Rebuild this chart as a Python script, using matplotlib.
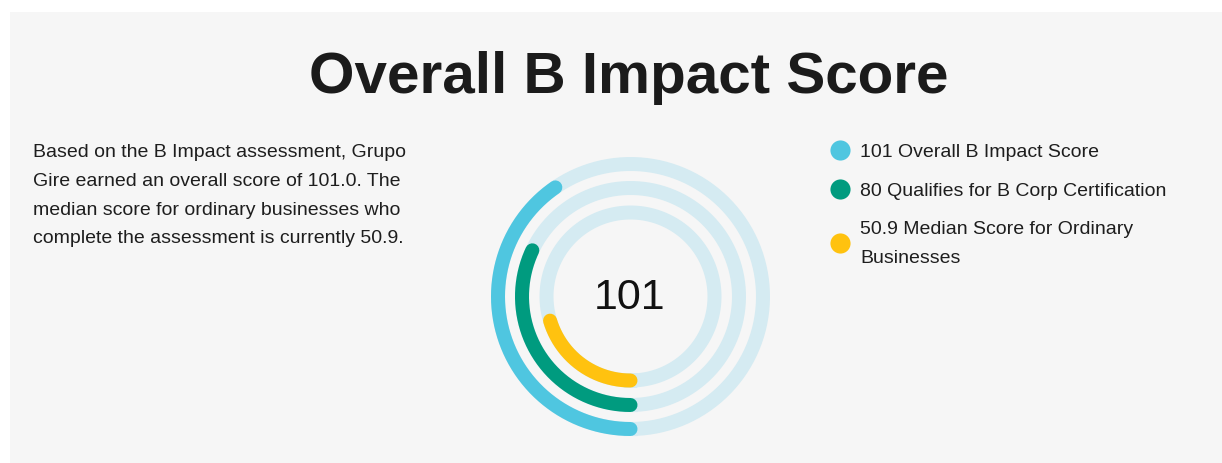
import numpy as np
import matplotlib
matplotlib.use('Agg')
from matplotlib import pyplot as plt
from matplotlib.patches import Rectangle

plt.rcParams['font.family'] = ['Liberation Sans', 'DejaVu Sans']

# data
max_score = 250
scores = [101, 80, 50.9]
labels = ['Overall B Impact Score', 'Qualifies for B Corp Certification',
          'Median Score for Ordinary\nBusinesses']
colours = ['#4fc6e0', '#009b7f', '#ffc20f']
track = '#d5ebf2'
title = 'Overall B Impact Score'
para = ['Based on the B Impact assessment, Grupo',
        'Gire earned an overall score of 101.0. The',
        'median score for ordinary businesses who',
        'complete the assessment is currently 50.9.']

W, H = 1222, 464
fig = plt.figure(figsize=(W/100, H/100), dpi=100)
fig.patch.set_facecolor('white')

ax = fig.add_axes([0, 0, 1, 1])
ax.set_xlim(0, W)
ax.set_ylim(H, 0)
ax.axis('off')
ax.add_patch(Rectangle((10, 13), W-10, H-13, color='#f6f6f6', lw=0))

ax.text(629, 93, title, fontsize=42, fontweight='bold', color='#1b1b1b',
        ha='center', va='baseline')

for i, line in enumerate(para):
    ax.text(33, 157 + i*28.8, line, fontsize=14, color='#1e1e1e', va='baseline')

# legend
leg_y = [151, 190, 244]
txt_y = [157, 196, 234]
for i in range(3):
    ax.plot(839.5, leg_y[i], 'o', ms=14.5, color=colours[i], mec='none')
    parts = f'{scores[i]:g} {labels[i]}'.split('\n')
    for k, p in enumerate(parts):
        ax.text(860, txt_y[i] + k*29, p, fontsize=14, color='#1e1e1e', va='baseline')

# rings
cx, cy, R = 630.5, 297.5, 150
pax = fig.add_axes([(cx-R)/W, (H-cy-R)/H, 2*R/W, 2*R/H], projection='polar')
pax.set_theta_zero_location('S')
pax.set_theta_direction(-1)
pax.set_ylim(0, R)
pax.axis('off')
pax.patch.set_alpha(0)

radii = [132.5, 108.5, 84]
lw = 14 * 72 / 100
full = np.linspace(0, 2*np.pi, 400)
for r, s, c in zip(radii, scores, colours):
    pax.plot(full, np.full_like(full, r), color=track, lw=lw)
    th = np.linspace(0, s / max_score * 2*np.pi, 300)
    pax.plot(th, np.full_like(th, r), color=c, lw=lw, solid_capstyle='round')

ax.text(629.5, 309, f'{scores[0]:g}', fontsize=31, color='#111111',
        ha='center', va='baseline')

plt.savefig('out.png', dpi=100, facecolor='white')
